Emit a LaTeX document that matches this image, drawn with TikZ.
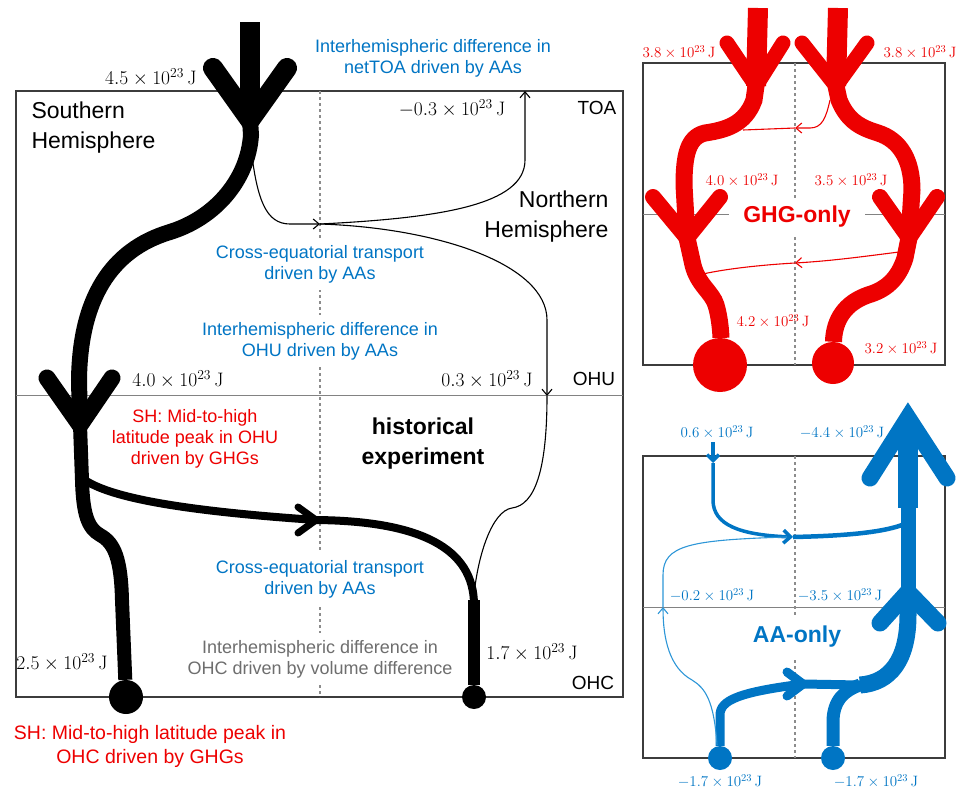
\RequirePackage{fix-cm}
\documentclass[tikz,border=0pt]{standalone}
\usepackage[no-math]{fontspec}
\setmainfont{Liberation Sans}
\usetikzlibrary{arrows.meta}

\definecolor{ghgred}{RGB}{237,0,0}
\definecolor{aablue}{RGB}{0,117,196}
\definecolor{aalight}{RGB}{45,150,215}
\definecolor{volgrey}{RGB}{110,110,110}
\definecolor{boxgray}{RGB}{60,60,60}
\definecolor{layergray}{RGB}{130,130,130}
\definecolor{dashgray}{RGB}{140,140,140}

\tikzset{
  boxline/.style={draw=boxgray, line width=1.3},
  layerline/.style={draw=layergray, line width=1},
  equator/.style={draw=dashgray, line width=1.1, dash pattern=on 3pt off 3pt},
  flow/.style={line width=#1},
  chev/.style={line width=#1, line cap=round, line join=miter},
  thinflow/.style={line width=1.1},
  barbtip/.style={-{Straight Barb[length=6pt,width=10pt]}},
  val/.style={font=\fontsize{19.5}{22}\selectfont},
  sval/.style={font=\fontsize{15}{18}\selectfont},
  note/.style={font=\fontsize{18}{21}\selectfont, align=center, fill=white, inner xsep=2, inner ysep=7},
  headline/.style={font=\fontsize{23}{30}\selectfont\bfseries, align=center},
  hemi/.style={font=\fontsize{23}{30}\selectfont},
  layername/.style={font=\fontsize{19}{22}\selectfont},
  dot/.style={circle, fill, inner sep=0, minimum size=#1}
}

\begin{document}
\begin{tikzpicture}[x=1pt, y=-1pt]
  \useasboundingbox (0,0) rectangle (959,790);

  % ===== historical experiment =====
  % Box, OHU level and equator
  \draw[boxline] (16,91) rectangle (623,697);
  \draw[layerline] (16,395) -- (623,395);
  \draw[equator] (320,91) -- (320,697);
  % Values and level names
  \node[val, anchor=east] (inTOA) at (200,77) {$4.5\times10^{23}\,\mathrm{J}$};
  \node[val] (nhTOA) at (452,108) {$-0.3\times10^{23}\,\mathrm{J}$};
  \node[layername] (toa) at (597,108) {TOA};
  \node[val] (shOHU) at (178,379) {$4.0\times10^{23}\,\mathrm{J}$};
  \node[val] (nhOHU) at (487,379) {$0.3\times10^{23}\,\mathrm{J}$};
  \node[layername] (ohu) at (594,379) {OHU};
  \node[val] (shOHC) at (62,662) {$2.5\times10^{23}\,\mathrm{J}$};
  \node[val] (nhOHC) at (532,652) {$1.7\times10^{23}\,\mathrm{J}$};
  \node[layername] (ohc) at (593,683) {OHC};
  % Hemispheres and notes
  \node[hemi, anchor=west, align=left] (sh) at (28,128) {Southern\\Hemisphere};
  \node[hemi, anchor=east, align=right] (nh) at (612,217) {Northern\\Hemisphere};
  \node[note, text=aablue] (netTOA) at (433,58) {Interhemispheric difference in\\netTOA driven by AAs};
  \node[note, text=aablue] (crossAtm) at (320,264) {Cross-equatorial transport\\driven by AAs};
  \node[note, text=aablue] (ohuDiff) at (320,341) {Interhemispheric difference in\\OHU driven by AAs};
  \node[note, fill=none, text=ghgred] (peakOHU) at (195,439) {SH: Mid-to-high\\latitude peak in OHU\\driven by GHGs};
  \node[headline] (hist) at (423,444) {historical\\experiment};
  \node[note, text=aablue] (crossOcn) at (320,579) {Cross-equatorial transport\\driven by AAs};
  \node[note, text=volgrey] (ohcDiff) at (320,659) {Interhemispheric difference in\\OHC driven by volume difference};
  \node[font=\fontsize{19.5}{24}\selectfont, align=center, text=ghgred] (peakOHC) at (150,746) {SH: Mid-to-high latitude peak in\\OHC driven by GHGs};
  % Heat flows
  \coordinate (sTop) at (250,22);
  \coordinate (sTip) at (250,120);
  \coordinate (ohuTip) at (80,425);
  \coordinate (midS) at (316,520);
  \coordinate (junc) at (320,224);
  \coordinate (toaN) at (525,91);
  \coordinate (ohuN) at (547,396);
  \node[dot=34] (ohcS) at (126,697) {};
  \node[dot=24] (ohcN) at (474,697) {};
  \draw[flow=20] (sTop) -- (sTip);
  \draw[chev=20] (213,68) -- (sTip) -- (287,68);
  \draw[flow=16] (sTip) -- (251,135) .. controls (248,180) and (215,218) .. (170,232)
    .. controls (110,250) and (80,300) .. (79,380) -- (ohuTip);
  \draw[chev=17] (47,378) -- (ohuTip) -- (112,378);
  \draw[flow=14] (ohuTip) -- (82,480) .. controls (83,515) and (88,528) .. (100,535)
    .. controls (115,543) and (121,560) .. (122,600) -- (ohcS);
  \draw[flow=8] (82,478) .. controls (110,500) and (200,512) .. (midS);
  \draw[chev=7] (298,507) -- (midS) -- (298,533);
  \draw[flow=8] (midS) .. controls (420,521) and (474,548) .. (474,605);
  \draw[flow=12] (474,600) -- (ohcN);
  % AA-driven transport
  \draw[thinflow, barbtip] (251,148) .. controls (257,200) and (266,224) .. (290,224) -- (junc);
  \draw[thinflow, barbtip] (junc) .. controls (440,218) and (525,205) .. (525,160) -- (toaN);
  \draw[thinflow, barbtip] (junc) .. controls (440,228) and (547,265) .. (547,320) -- (ohuN);
  \draw[thinflow] (ohuN) .. controls (547,470) and (535,505) .. (512,508)
    .. controls (492,511) and (478,555) .. (474,595);

  % ===== GHG-only =====
  \draw[boxline] (643,63) rectangle (945,365);
  \draw[layerline] (643,214) -- (945,214);
  \draw[equator] (795,63) -- (795,365);
  \node[headline, text=ghgred, fill=white, inner xsep=14, inner ysep=8] (ghg) at (797,217) {GHG-only};
  \node[sval, text=ghgred] (ghgInL) at (679,52) {$3.8\times10^{23}\,\mathrm{J}$};
  \node[sval, text=ghgred] (ghgInR) at (920,52) {$3.8\times10^{23}\,\mathrm{J}$};
  \node[sval, text=ghgred] (ghgUpL) at (742,180) {$4.0\times10^{23}\,\mathrm{J}$};
  \node[sval, text=ghgred] (ghgUpR) at (851,180) {$3.5\times10^{23}\,\mathrm{J}$};
  \node[sval, text=ghgred] (ghgOcL) at (773,321) {$4.2\times10^{23}\,\mathrm{J}$};
  \node[sval, text=ghgred] (ghgOcR) at (901,348) {$3.2\times10^{23}\,\mathrm{J}$};
  \begin{scope}[ghgred]
    \coordinate (ghgLtip) at (756,86);
    \coordinate (ghgLmid) at (687,238);
    \coordinate (ghgRtip) at (836,86);
    \coordinate (ghgRmid) at (909,238);
    \coordinate (ghgUp) at (795,128);
    \coordinate (ghgLow) at (795,263);
    \node[dot=54] (ghgLdot) at (720,365) {};
    \node[dot=42] (ghgRdot) at (833,363) {};
    % Southern side
    \draw[flow=20] (758,8) -- (ghgLtip);
    \draw[chev=15] (727,43) -- (ghgLtip) -- (783,43);
    \draw[flow=17] (ghgLtip) -- (754,100) .. controls (745,125) and (725,130) .. (705,133)
      .. controls (688,137) and (684,155) .. (684,185) -- (ghgLmid);
    \draw[chev=16] (653,197) -- (ghgLmid) -- (720,197);
    \draw[flow=17] (ghgLmid) -- (693,265) .. controls (698,285) and (712,292) .. (716,305)
      .. controls (720,318) and (721,335) .. (ghgLdot);
    % Northern side
    \draw[flow=20] (838,8) -- (ghgRtip);
    \draw[chev=15] (802,43) -- (ghgRtip) -- (867,43);
    \draw[flow=17] (ghgRtip) -- (839,100) .. controls (848,122) and (862,128) .. (878,133)
      .. controls (900,140) and (912,160) .. (912,190) -- (ghgRmid);
    \draw[chev=16] (880,197) -- (ghgRmid) -- (937,197);
    \draw[flow=17] (ghgRmid) -- (905,258) .. controls (898,280) and (885,290) .. (868,295)
      .. controls (845,303) and (834,320) .. (ghgRdot);
    % Cross-equatorial transport
    \draw[thinflow, barbtip] (830,100) .. controls (826,118) and (822,128) .. (810,128) -- (ghgUp);
    \draw[thinflow] (ghgUp) -- (743,130);
    \draw[thinflow, barbtip] (899,252) .. controls (860,257) and (830,261) .. (ghgLow);
    \draw[thinflow] (ghgLow) .. controls (760,265) and (725,269) .. (703,274);
  \end{scope}

  % ===== AA-only =====
  \draw[boxline] (643,456) rectangle (945,758);
  \draw[layerline] (643,607) -- (945,607);
  \draw[equator] (795,456) -- (795,758);
  \node[headline, text=aablue, fill=white, inner xsep=6, inner ysep=10] (aa) at (797,637) {AA-only};
  \node[sval, text=aablue] (aaInL) at (717,432) {$0.6\times10^{23}\,\mathrm{J}$};
  \node[sval, text=aablue] (aaInR) at (842,432) {$-4.4\times10^{23}\,\mathrm{J}$};
  \node[sval, text=aablue] (aaUpL) at (712,595) {$-0.2\times10^{23}\,\mathrm{J}$};
  \node[sval, text=aablue] (aaUpR) at (840,595) {$-3.5\times10^{23}\,\mathrm{J}$};
  \node[sval, text=aablue] (aaOcL) at (720,781) {$-1.7\times10^{23}\,\mathrm{J}$};
  \node[sval, text=aablue] (aaOcR) at (876,781) {$-1.7\times10^{23}\,\mathrm{J}$};
  \begin{scope}[aablue]
    \coordinate (aaTop) at (908,418);
    \coordinate (aaMid) at (908,592);
    \coordinate (aaJoin) at (860,685);
    \coordinate (aaArr) at (803,684);
    \coordinate (aaIn) at (713,442);
    \coordinate (aaInTip) at (713,463);
    \coordinate (aaCross) at (793,537);
    \coordinate (aaRet) at (663,607);
    \node[dot=24] (aaLdot) at (720,758) {};
    \node[dot=24] (aaRdot) at (833,758) {};
    % Northern upward flow
    \draw[flow=20] (aaTop) -- (908,508);
    \draw[flow=15] (908,506) -- (aaMid);
    \draw[chev=17] (870,478) -- (aaTop) -- (947,478);
    \draw[chev=17] (880,623) -- (aaMid) -- (938,623);
    \draw[flow=17] (aaMid) -- (908,615) .. controls (908,660) and (890,683) .. (aaJoin);
    % Ocean flows
    \draw[flow=9] (aaLdot) -- (720,715) .. controls (720,700) and (740,692) .. (aaArr);
    \draw[chev=9] (787,672) -- (aaArr) -- (787,696);
    \draw[flow=9] (aaArr) -- (aaJoin);
    \draw[flow=13] (aaRdot) -- (833,722) .. controls (833,700) and (845,690) .. (aaJoin);
    % Southern TOA input
    \draw[flow=3.5, -{Straight Barb[length=6pt,width=12pt]}] (aaIn) -- (aaInTip);
    \draw[flow=3.5, -{Straight Barb[length=7pt,width=13pt]}] (aaInTip) -- (713,500)
      .. controls (713,525) and (740,535) .. (aaCross);
    \draw[flow=4.5] (aaCross) .. controls (840,536) and (880,533) .. (902,525);
    % Return path
    \draw[thinflow, aalight, barbtip] (717,745) .. controls (714,700) and (705,688) .. (692,680)
      .. controls (670,668) and (663,640) .. (aaRet);
    \draw[thinflow, aalight] (aaRet) -- (663,575) .. controls (663,545) and (690,540) .. (787,537);
  \end{scope}
\end{tikzpicture}
\end{document}
